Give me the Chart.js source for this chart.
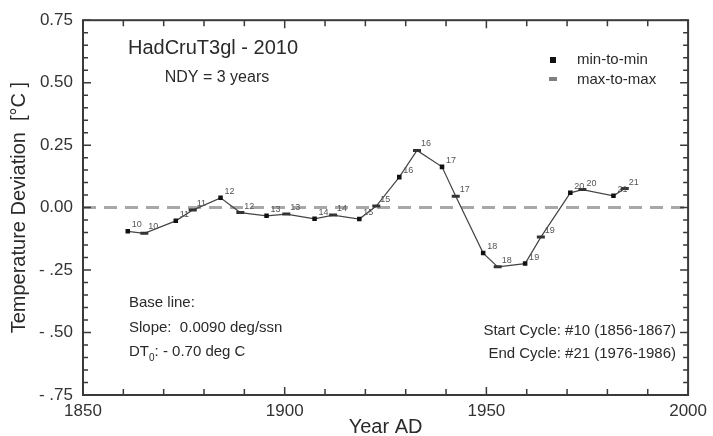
<!DOCTYPE html>
<html><head><meta charset="utf-8">
<script src="https://cdn.jsdelivr.net/npm/chart.js@4/dist/chart.umd.min.js"></script>
<style>html,body{margin:0;padding:0;background:#fff}#wrap{width:713px;height:436px}</style>
</head><body><div id="wrap"><canvas id="c" width="713" height="436"></canvas></div>
<script>
// Solar cycle numbers (each has a min-to-min and a max-to-max point)
const cycles = [10, 11, 12, 13, 14, 15, 16, 17, 18, 19, 20, 21];
// min-to-min cycle centres (year) and temperature deviation (deg C)
const minYears  = [1861.1, 1873.0, 1884.1, 1895.5, 1907.4, 1918.5, 1928.4, 1939.0, 1949.2, 1959.6, 1970.8, 1981.5];
const minValues = [-0.095, -0.053, 0.039, -0.033, -0.045, -0.046, 0.122, 0.163, -0.182, -0.224, 0.059, 0.047];
// max-to-max cycle centres (year) and temperature deviation (deg C)
const maxYears  = [1865.2, 1877.2, 1889.0, 1900.4, 1912.0, 1922.7, 1932.8, 1942.4, 1952.8, 1963.5, 1973.8, 1984.3];
const maxValues = [-0.103, -0.010, -0.020, -0.026, -0.030, 0.006, 0.229, 0.045, -0.237, -0.118, 0.072, 0.076];
// axis tick labels
const xTickLabels = ['1850', '1900', '1950', '2000'];
const yTickLabels = ['- .75', '- .50', '- .25', '0.00', '0.25', '0.50', '0.75'];

const FONT = "'Liberation Sans', Arial, Helvetica, sans-serif";

const minPts = minYears.map((x, i) => ({x, y: minValues[i], c: cycles[i]}));
const maxPts = maxYears.map((x, i) => ({x, y: maxValues[i], c: cycles[i]}));
const allPts = minPts.concat(maxPts).sort((a, b) => a.x - b.x);

const deco = {
  id: 'deco',
  beforeDatasetsDraw(chart) {
    const {ctx, chartArea: a, scales: {y}} = chart;
    const y0 = y.getPixelForValue(0);
    ctx.save();
    ctx.strokeStyle = '#a8a8a8';
    ctx.lineWidth = 3;
    ctx.setLineDash([13, 8]);
    ctx.beginPath(); ctx.moveTo(a.left, y0); ctx.lineTo(a.right, y0); ctx.stroke();
    ctx.restore();
  },
  afterDraw(chart) {
    const {ctx, chartArea: a, scales: {x, y}} = chart;
    ctx.save();
    // frame
    ctx.strokeStyle = '#3a3a3a';
    ctx.lineWidth = 2;
    ctx.strokeRect(a.left, a.top, a.right - a.left, a.bottom - a.top);
    // inward ticks
    ctx.lineWidth = 1.5;
    ctx.beginPath();
    for (let yr = 1850; yr <= 2000; yr += 10) {
      const px = x.getPixelForValue(yr);
      const L = (yr % 50 === 0) ? 8 : 6;
      ctx.moveTo(px, a.bottom); ctx.lineTo(px, a.bottom - L);
      ctx.moveTo(px, a.top); ctx.lineTo(px, a.top + L);
    }
    for (let k = -15; k <= 15; k++) {
      const v = k * 0.05;
      const py = y.getPixelForValue(v);
      const L = (k % 5 === 0) ? 8 : 5;
      ctx.moveTo(a.left, py); ctx.lineTo(a.left + L, py);
      ctx.moveTo(a.right, py); ctx.lineTo(a.right - L, py);
    }
    ctx.stroke();

    // cycle number labels
    ctx.fillStyle = '#555';
    ctx.font = '9px ' + FONT;
    ctx.textAlign = 'left';
    ctx.textBaseline = 'alphabetic';
    allPts.forEach(p => {
      const px = x.getPixelForValue(p.x), py = y.getPixelForValue(p.y);
      ctx.fillText(String(p.c), px + 4, py - 4);
    });

    // texts
    ctx.fillStyle = '#2a2a2a';
    ctx.textBaseline = 'middle';
    ctx.textAlign = 'center';
    ctx.font = '20px ' + FONT;
    ctx.fillText('HadCruT3gl - 2010', 213, 48);
    ctx.font = '16px ' + FONT;
    ctx.fillText('NDY = 3 years', 217, 78);

    // legend
    ctx.textAlign = 'left';
    ctx.font = '15px ' + FONT;
    ctx.fillStyle = '#111';
    ctx.fillRect(550, 57, 6, 6);
    ctx.fillStyle = '#808080';
    ctx.fillRect(549, 77, 8, 4);
    ctx.fillStyle = '#2a2a2a';
    ctx.fillText('min-to-min', 577, 60);
    ctx.fillText('max-to-max', 577, 80);

    // base line block
    ctx.fillText('Base line:', 129, 303);
    ctx.fillText('Slope:  0.0090 deg/ssn', 129, 328);
    ctx.fillText('DT', 129, 352);
    const wDT = ctx.measureText('DT').width;
    ctx.font = '10px ' + FONT;
    ctx.fillText('0', 129 + wDT, 358);
    const w0 = ctx.measureText('0').width;
    ctx.font = '15px ' + FONT;
    ctx.fillText(': - 0.70 deg C', 129 + wDT + w0, 352);

    ctx.textAlign = 'right';
    ctx.fillText('Start Cycle: #10 (1856-1867)', 676, 331);
    ctx.fillText('End Cycle: #21 (1976-1986)', 676, 354);
    ctx.restore();
  }
};

new Chart(document.getElementById('c'), {
  type: 'scatter',
  data: {
    datasets: [
      {label: 'line', data: allPts, showLine: true, borderColor: '#444', borderWidth: 1.2,
       pointRadius: 0, order: 3},
      {label: 'min-to-min', data: minPts, pointStyle: 'rect', pointRadius: 3.2,
       backgroundColor: '#111', borderColor: '#111', borderWidth: 0, order: 1},
      {label: 'max-to-max', data: maxPts, pointStyle: 'line', pointRadius: 4,
       borderColor: '#333', backgroundColor: '#333', borderWidth: 3, order: 2}
    ]
  },
  options: {
    responsive: false,
    animation: false,
    layout: {padding: {top: 15, right: 17, left: 0, bottom: 0}},
    plugins: {legend: {display: false}, tooltip: {enabled: false}},
    scales: {
      x: {
        type: 'linear', min: 1850, max: 2000,
        afterBuildTicks: s => { s.ticks = xTickLabels.map(t => ({value: Number(t)})); },
        ticks: {callback: (v) => xTickLabels[xTickLabels.indexOf(String(v))] ?? '',
                font: {family: FONT, size: 17}, color: '#333', padding: 6, maxRotation: 0, autoSkip: false},
        grid: {display: false, drawTicks: false},
        border: {display: false},
        title: {display: true, text: 'Year AD', color: '#2a2a2a',
                font: {family: FONT, size: 20}, padding: {top: 0, bottom: -3}},
        afterFit: s => { s.height = 41; }
      },
      y: {
        min: -0.75, max: 0.75,
        afterBuildTicks: s => { s.ticks = yTickLabels.map((t, i) => ({value: -0.75 + i * 0.25})); },
        ticks: {callback: (v) => yTickLabels[Math.round((v + 0.75) / 0.25)],
                font: {family: FONT, size: 17}, color: '#333', padding: 10, autoSkip: false},
        grid: {display: false, drawTicks: false},
        border: {display: false},
        title: {display: true, text: 'Temperature Deviation  [°C ]', color: '#2a2a2a',
                font: {family: FONT, size: 20}, padding: {top: 7, bottom: 0}},
        afterFit: s => { s.width = 83; }
      }
    }
  },
  plugins: [deco]
});
</script>
</body></html>
